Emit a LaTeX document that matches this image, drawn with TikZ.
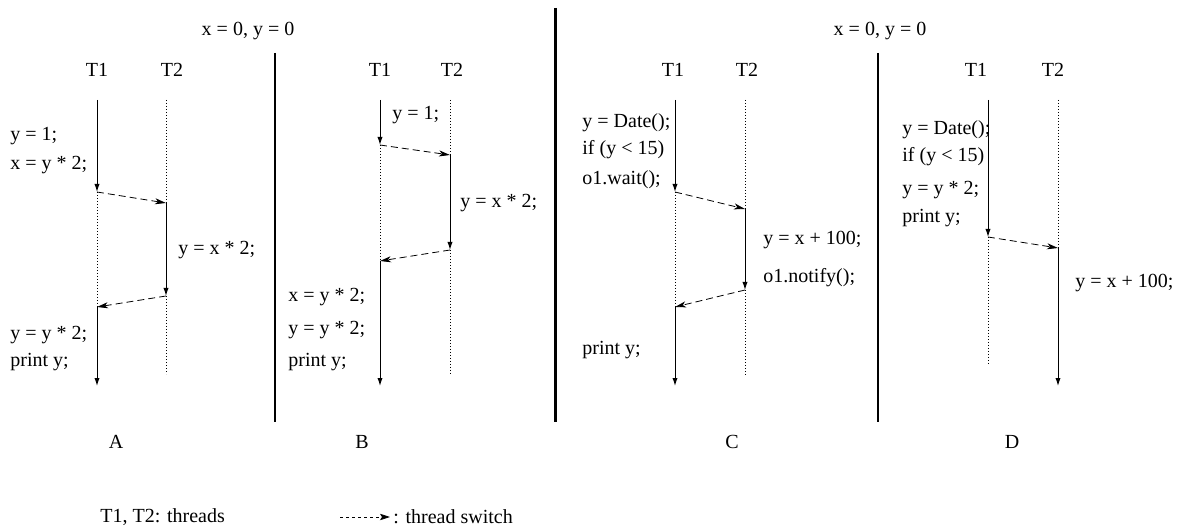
\documentclass[tikz,border=0pt]{standalone}
\usepackage{fontspec}
\setmainfont{Liberation Serif}
\usepackage{tikz}
\usetikzlibrary{arrows.meta}

\begin{document}
\begin{tikzpicture}[x=0.5pt, y=-0.5pt, >={Latex[length=4pt,width=2.6pt]}, font=\fontsize{10}{12}\selectfont]
    \tikzstyle{run} = [draw, ->, line width=0.5pt]
    \tikzstyle{idle} = [draw, line width=0.4pt, dash pattern=on 0.4pt off 1.1pt]
    \tikzstyle{switch} = [draw, ->, line width=0.4pt, dash pattern=on 3.5pt off 2pt, >={Stealth[length=5.5pt,width=3pt,inset=1.5pt]}]
    \tikzstyle{stmt} = [anchor=west, inner sep=0pt]
    \tikzstyle{thread} = [inner sep=0pt]
    \tikzstyle{sep} = [draw, line width=0.6pt]

    \useasboundingbox (0,0) rectangle (1183,529);

    % initial values
    \node [thread] (initAB) at (248,31) {x = 0, y = 0};
    \node [thread] (initCD) at (880,31) {x = 0, y = 0};

    % separators
    \path [sep] (275,53) -- (275,422);
    \path [sep, line width=1.5pt] (555,8) -- (555,422);
    \path [sep] (878,53) -- (878,422);

    % panel A
    \node [thread] (aT1) at (97,70) {T1};
    \node [thread] (aT2) at (172,70) {T2};
    \coordinate (a1top) at (97,100);
    \coordinate (a1s1) at (97,192);
    \coordinate (a1s2) at (97,307);
    \coordinate (a1end) at (97,386);
    \coordinate (a2top) at (166,100);
    \coordinate (a2s1) at (166,203);
    \coordinate (a2s2) at (166,296);
    \coordinate (a2end) at (166,374);
    \node [stmt] (a1) at (10,136) {y = 1;};
    \node [stmt] (a2) at (10,165) {x = y * 2;};
    \node [stmt] (a3) at (178,250) {y = x * 2;};
    \node [stmt] (a4) at (10,335) {y = y * 2;};
    \node [stmt] (a5) at (10,362) {print y;};
    \node [thread] (capA) at (116,442) {A};
    \path [run] (a1top) -- (a1s1);
    \path [idle] (a1s1) -- (a1s2);
    \path [run] (a1s2) -- (a1end);
    \path [idle] (a2top) -- (a2s1);
    \path [run] (a2s1) -- (a2s2);
    \path [idle] (a2s2) -- (a2end);
    \path [switch] (a1s1) -- (a2s1);
    \path [switch] (a2s2) -- (a1s2);

    % panel B
    \node [thread] (bT1) at (380,70) {T1};
    \node [thread] (bT2) at (452,70) {T2};
    \coordinate (b1top) at (380,100);
    \coordinate (b1s1) at (380,145);
    \coordinate (b1s2) at (380,261);
    \coordinate (b1end) at (380,386);
    \coordinate (b2top) at (450,100);
    \coordinate (b2s1) at (450,155);
    \coordinate (b2s2) at (450,250);
    \coordinate (b2end) at (450,375);
    \node [stmt] (b1) at (392,115) {y = 1;};
    \node [stmt] (b2) at (460,203) {y = x * 2;};
    \node [stmt] (b3) at (288,297) {x = y * 2;};
    \node [stmt] (b4) at (288,330) {y = y * 2;};
    \node [stmt] (b5) at (288,362) {print y;};
    \node [thread] (capB) at (362,442) {B};
    \path [run] (b1top) -- (b1s1);
    \path [idle] (b1s1) -- (b1s2);
    \path [run] (b1s2) -- (b1end);
    \path [idle] (b2top) -- (b2s1);
    \path [run] (b2s1) -- (b2s2);
    \path [idle] (b2s2) -- (b2end);
    \path [switch] (b1s1) -- (b2s1);
    \path [switch] (b2s2) -- (b1s2);

    % panel C
    \node [thread] (cT1) at (673,70) {T1};
    \node [thread] (cT2) at (747,70) {T2};
    \coordinate (c1top) at (675,100);
    \coordinate (c1s1) at (675,192);
    \coordinate (c1s2) at (675,307);
    \coordinate (c1end) at (675,386);
    \coordinate (c2top) at (745,100);
    \coordinate (c2s1) at (745,209);
    \coordinate (c2s2) at (745,290);
    \coordinate (c2end) at (745,375);
    \node [stmt] (c1) at (582,123) {y = Date();};
    \node [stmt] (c2) at (582,150) {if (y < 15)};
    \node [stmt] (c3) at (582,180) {o1.wait();};
    \node [stmt] (c4) at (763,240) {y = x + 100;};
    \node [stmt] (c5) at (763,278) {o1.notify();};
    \node [stmt] (c6) at (582,350) {print y;};
    \node [thread] (capC) at (732,442) {C};
    \path [run] (c1top) -- (c1s1);
    \path [idle] (c1s1) -- (c1s2);
    \path [run] (c1s2) -- (c1end);
    \path [idle] (c2top) -- (c2s1);
    \path [run] (c2s1) -- (c2s2);
    \path [idle] (c2s2) -- (c2end);
    \path [switch] (c1s1) -- (c2s1);
    \path [switch] (c2s2) -- (c1s2);

    % panel D
    \node [thread] (dT1) at (976,70) {T1};
    \node [thread] (dT2) at (1053,70) {T2};
    \coordinate (d1top) at (988,100);
    \coordinate (d1s1) at (988,237);
    \coordinate (d1end) at (988,364);
    \coordinate (d2top) at (1058,100);
    \coordinate (d2s1) at (1058,248);
    \coordinate (d2end) at (1058,386);
    \node [stmt] (d1) at (902,130) {y = Date();};
    \node [stmt] (d2) at (902,157) {if (y < 15)};
    \node [stmt] (d3) at (902,190) {y = y * 2;};
    \node [stmt] (d4) at (902,218) {print y;};
    \node [stmt] (d5) at (1075,283) {y = x + 100;};
    \node [thread] (capD) at (1012,442) {D};
    \path [run] (d1top) -- (d1s1);
    \path [idle] (d1s1) -- (d1end);
    \path [idle] (d2top) -- (d2s1);
    \path [run] (d2s1) -- (d2end);
    \path [switch] (d1s1) -- (d2s1);

    % legend
    \node [stmt] (legT) at (100,517) {T1, T2: threads};
    \coordinate (leg1) at (340,517);
    \coordinate (leg2) at (390,517);
    \node [stmt] (legS) at (393,517) {: thread switch};
    \path [switch, dash pattern=on 1.6pt off 1.4pt, >={Stealth[length=5pt,width=3.2pt,inset=1pt]}] (leg1) -- (leg2);
\end{tikzpicture}
\end{document}
